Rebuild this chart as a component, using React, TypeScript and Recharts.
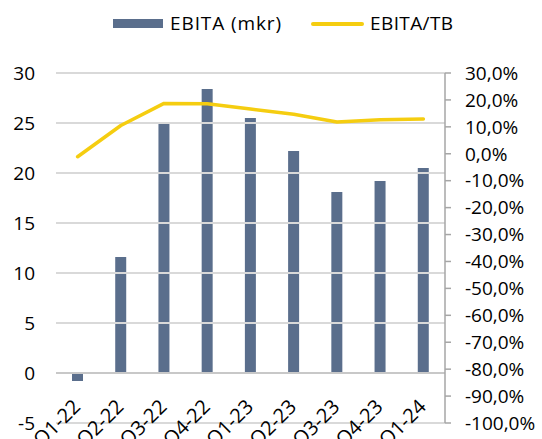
import {
  ComposedChart,
  Bar,
  Line,
  XAxis,
  YAxis,
  ReferenceLine,
} from "recharts";

const QUARTERS = ["Q1-22", "Q2-22", "Q3-22", "Q4-22", "Q1-23", "Q2-23", "Q3-23", "Q4-23", "Q1-24"];
const EBITA = [-0.8, 11.6, 25.1, 28.4, 25.5, 22.2, 18.1, 19.2, 20.5];
const EBITA_TB = [-1.1, 10.5, 18.7, 18.6, 16.6, 14.7, 11.8, 12.6, 12.9];

const LEFT_TICKS = [-5, 0, 5, 10, 15, 20, 25, 30];
const RIGHT_TICKS = [-100, -90, -80, -70, -60, -50, -40, -30, -20, -10, 0, 10, 20, 30];
const GRID_VALUES = [-5, 5, 10, 15, 20, 25, 30];

const BAR_COLOR = "#5a6e8c";
const LINE_COLOR = "#f5cd10";
const FONT = "'Open Sans', sans-serif";

const data = QUARTERS.map((q, i) => ({ q, ebita: EBITA[i], tb: EBITA_TB[i] }));

const fmtPct = (v: number) => `${v.toFixed(1).replace(".", ",")}%`;

// labels hang from the zero line, one step (5 units) above the axis bottom
function QuarterTick(props: any) {
  const { x, y, payload } = props;
  const ax = x + 4;
  const ay = y - 15;
  return (
    <text
      x={ax}
      y={ay}
      textAnchor="end"
      transform={`rotate(-45, ${ax}, ${ay})`}
      fontSize={20}
      fontFamily={FONT}
      fill="#000"
    >
      {payload.value}
    </text>
  );
}

function LegendRow() {
  return (
    <div
      style={{
        position: "absolute",
        left: 0,
        top: 0,
        width: 542,
        height: 46,
        fontFamily: FONT,
        fontSize: 19,
        color: "#000",
      }}
    >
      <div style={{ position: "absolute", left: 113, top: 19, width: 50, height: 9, background: BAR_COLOR }} />
      <div style={{ position: "absolute", left: 170, top: 9, lineHeight: "28px", letterSpacing: 0.9 }}>
        EBITA (mkr)
      </div>
      <div
        style={{
          position: "absolute",
          left: 311,
          top: 22,
          width: 53,
          height: 3.5,
          borderRadius: 2,
          background: LINE_COLOR,
        }}
      />
      <div style={{ position: "absolute", left: 370, top: 9, lineHeight: "28px", letterSpacing: 0.4 }}>
        EBITA/TB
      </div>
    </div>
  );
}

export default function App() {
  return (
    <div style={{ position: "absolute", left: 0, top: 0, width: 542, height: 439, background: "#fff", overflow: "hidden" }}>
      <LegendRow />
      <ComposedChart
        width={542}
        height={439}
        data={data}
        margin={{ top: 73, right: 0, bottom: 0, left: 0 }}
        style={{ position: "absolute", left: 0, top: 0 }}
      >
        <XAxis
          dataKey="q"
          height={16}
          axisLine={false}
          tickLine={false}
          tickSize={0}
          tickMargin={0}
          interval={0}
          tick={<QuarterTick />}
        />
        <YAxis
          yAxisId="left"
          domain={[-5, 30]}
          ticks={LEFT_TICKS}
          interval={0}
          width={56}
          axisLine={false}
          tickLine={false}
          tickSize={0}
          tickMargin={21}
          tick={{ fontSize: 19, fontFamily: FONT, fill: "#000" }}
        />
        <YAxis
          yAxisId="right"
          orientation="right"
          domain={[-100, 30]}
          ticks={RIGHT_TICKS}
          interval={0}
          width={97}
          axisLine={{ stroke: "#a6a6a6", strokeWidth: 1.5 }}
          tickLine={{ stroke: "#a6a6a6", strokeWidth: 1.5 }}
          tickSize={6}
          tickMargin={14}
          tickFormatter={fmtPct}
          tick={{ fontSize: 19, fontFamily: FONT, fill: "#000", textAnchor: "start" }}
        />
        {GRID_VALUES.map((v) => (
          <ReferenceLine key={v} yAxisId="left" y={v} stroke="#d9d9d9" strokeWidth={2} />
        ))}
        <ReferenceLine yAxisId="left" y={0} stroke="#c8c8c8" strokeWidth={2} />
        <Bar yAxisId="left" dataKey="ebita" fill={BAR_COLOR} barSize={11} isAnimationActive={false} />
        <Line
          yAxisId="right"
          dataKey="tb"
          type="linear"
          stroke={LINE_COLOR}
          strokeWidth={3.5}
          strokeLinecap="round"
          strokeLinejoin="round"
          dot={false}
          activeDot={false}
          isAnimationActive={false}
        />
      </ComposedChart>
    </div>
  );
}
